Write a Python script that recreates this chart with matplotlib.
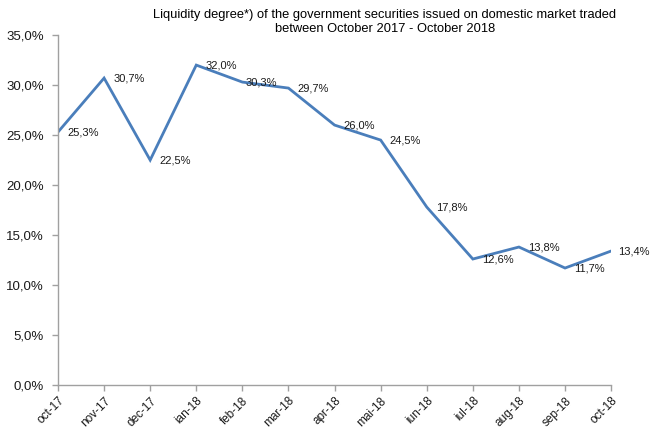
import matplotlib
matplotlib.use("Agg")
from matplotlib import pyplot as plt
import numpy as np

plt.rcParams['font.family'] = ['Liberation Sans', 'DejaVu Sans']

months = ['oct-17', 'nov-17', 'dec-17', 'ian-18', 'feb-18', 'mar-18', 'apr-18',
          'mai-18', 'iun-18', 'iul-18', 'aug-18', 'sep-18', 'oct-18']
liquidity = [25.3, 30.7, 22.5, 32.0, 30.3, 29.7, 26.0, 24.5, 17.8, 12.6, 13.8, 11.7, 13.4]
yticks = [0, 5, 10, 15, 20, 25, 30, 35]

def pct(v):
    return ('%.1f%%' % v).replace('.', ',')

fig = plt.figure(figsize=(6.5, 4.28), dpi=100)
ax = fig.add_axes([0.0892, 0.1005, 0.851, 0.8175])

x = np.arange(len(months))
ax.plot(x, liquidity, color='#4a7ebb', linewidth=2.0, solid_joinstyle='miter')

# data labels right of each point
for i, v in enumerate(liquidity):
    dx = 6.5
    if months[i] == 'feb-18':
        dx = 2
    elif i == len(months) - 1:
        dx = 5
    ax.annotate(pct(v), (i, v), xytext=(dx, 0), textcoords='offset points',
                ha='left', va='center', fontsize=8, color='#1a1a1a')

ax.set_xlim(0, len(months) - 1)
ax.set_ylim(0, 35)
ax.set_xticks(x)
ax.set_xticklabels(months, rotation=45, ha='right', rotation_mode='anchor')
ax.set_yticks(yticks)
ax.set_yticklabels([pct(t) for t in yticks])

for s in ['top', 'right']:
    ax.spines[s].set_visible(False)
for s in ['left', 'bottom']:
    ax.spines[s].set_color('#a0a0a0')
    ax.spines[s].set_linewidth(1.0)
ax.tick_params(axis='both', colors='#a0a0a0', length=4, width=1.0, labelcolor='#1a1a1a')
ax.tick_params(axis='y', labelsize=9.5, pad=6)
ax.tick_params(axis='x', labelsize=8.5, pad=3)

fig.text(0.592, 0.978, 'Liquidity degree*) of the government securities issued on domestic market traded\nbetween October 2017 - October 2018',
         ha='center', va='top', fontsize=9.3, linespacing=1.2)

fig.savefig('out.png', dpi=100)
